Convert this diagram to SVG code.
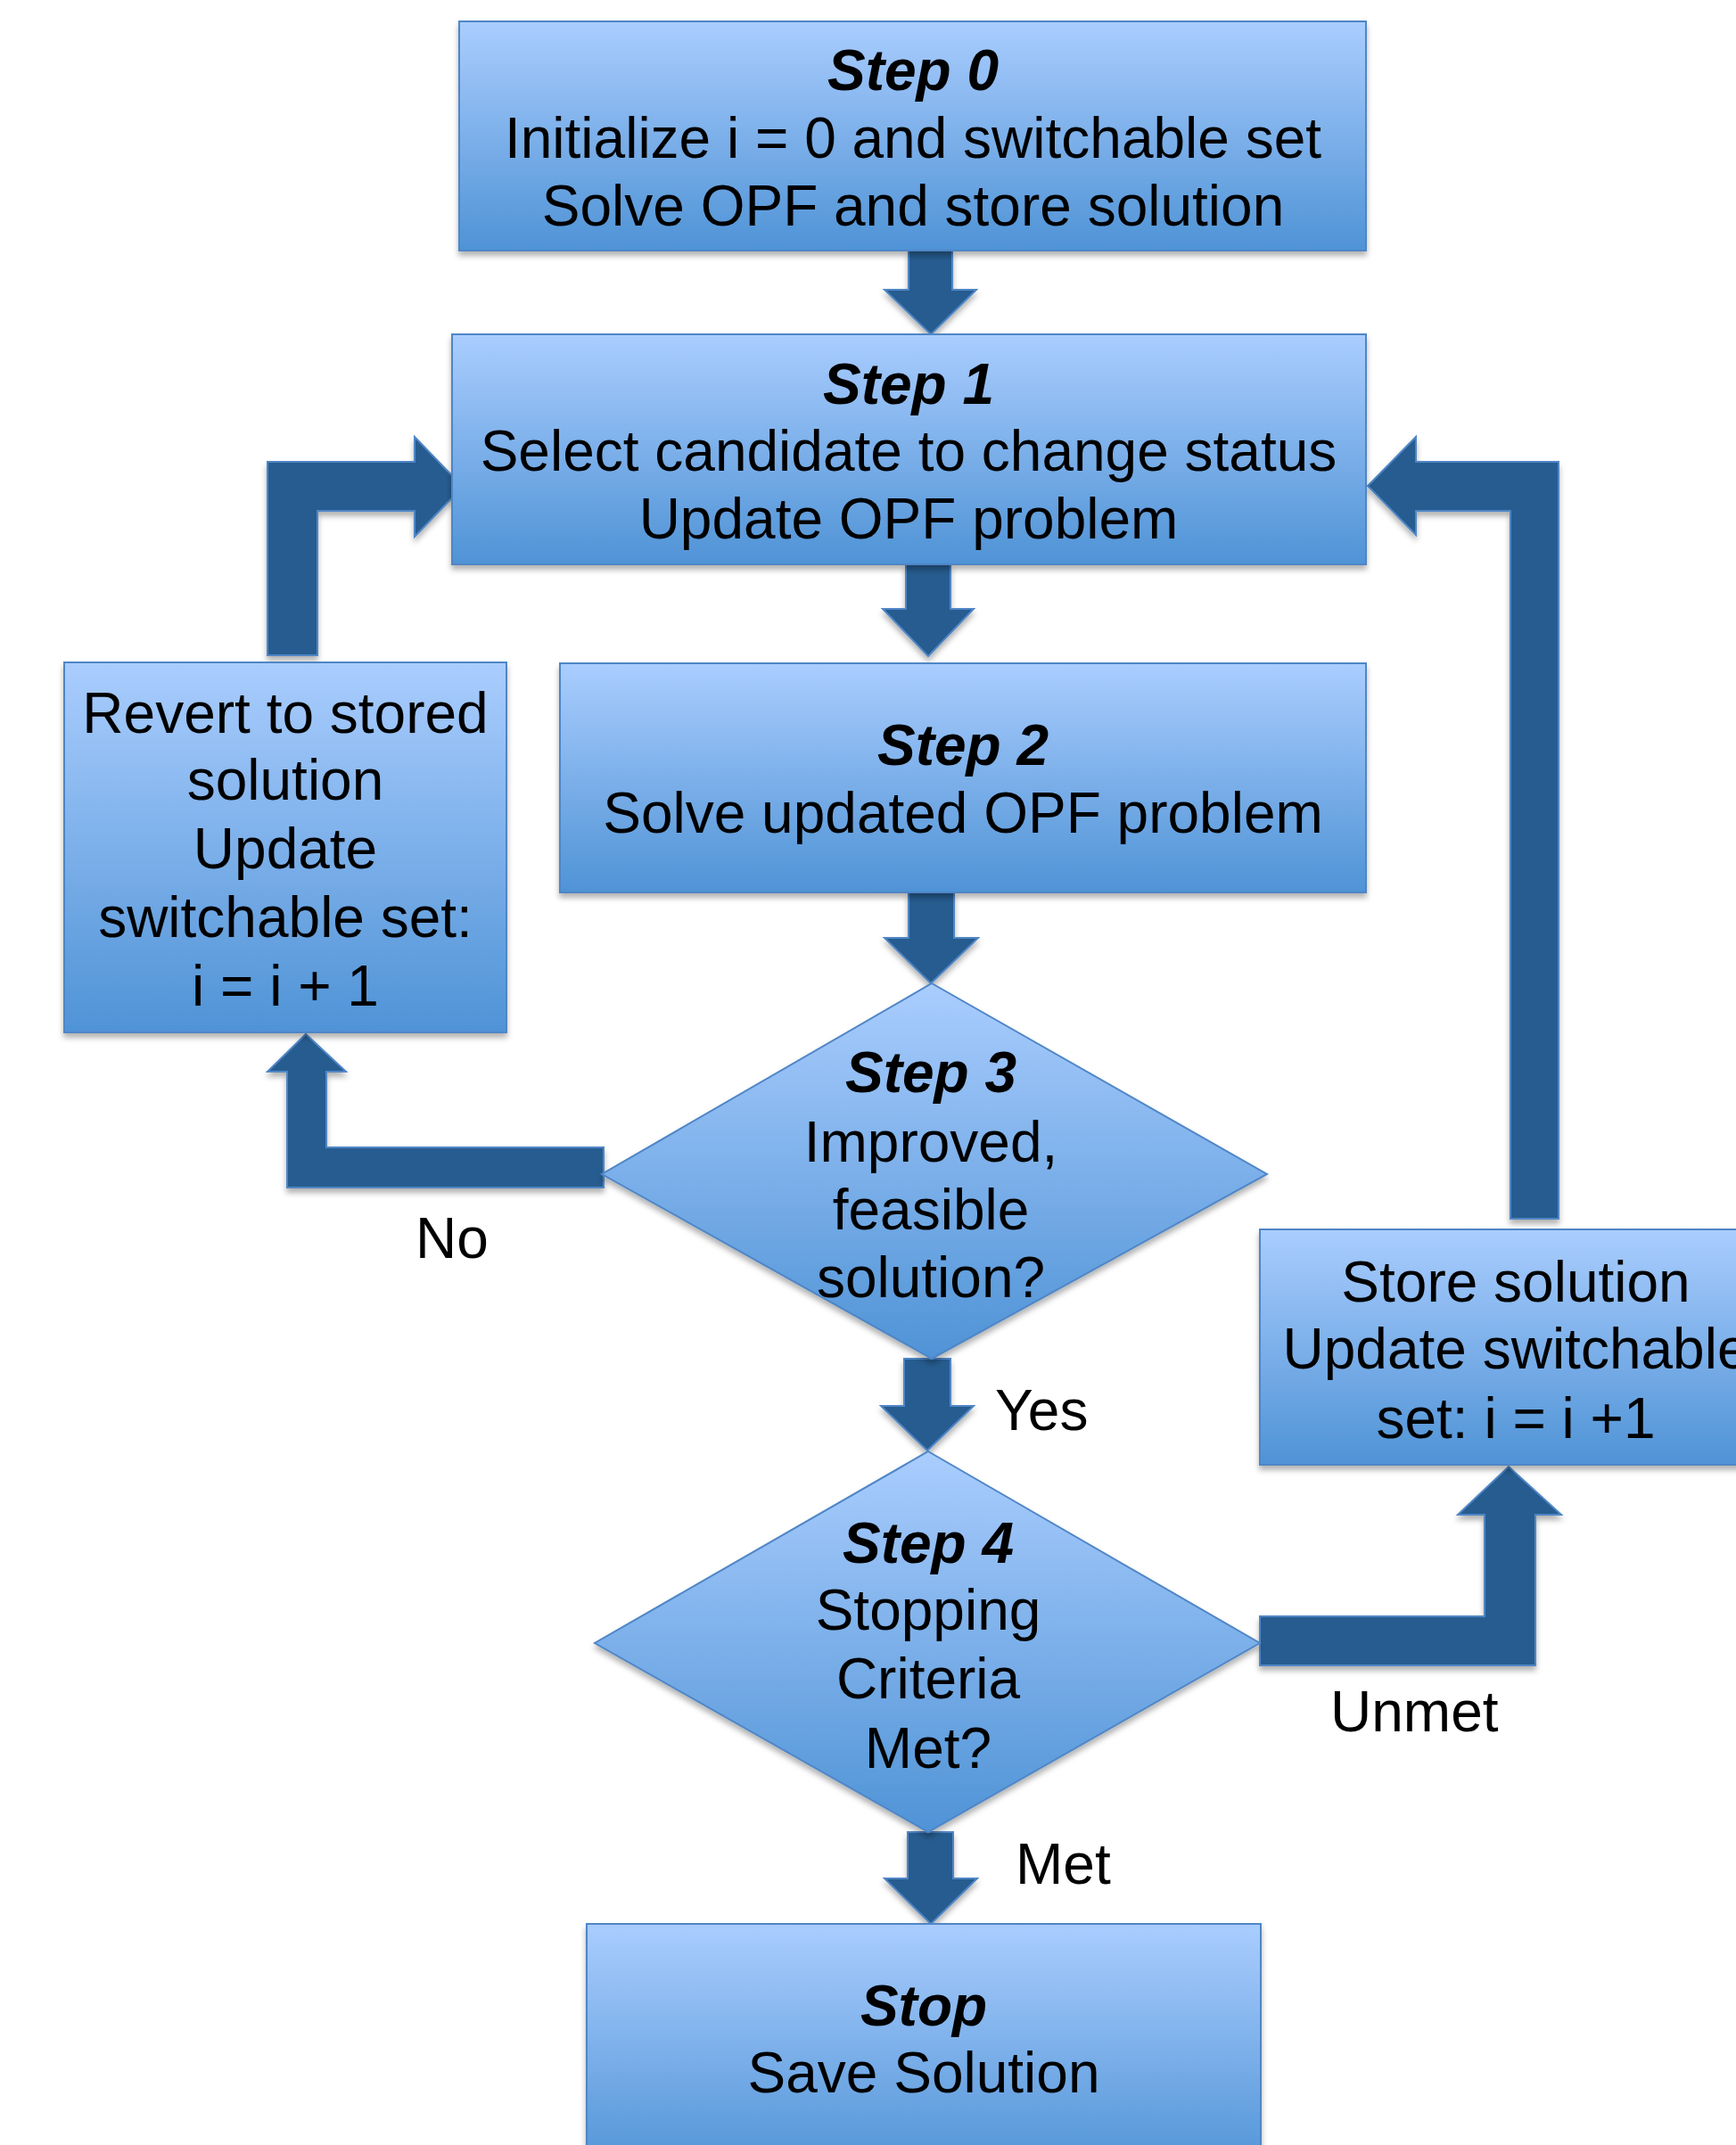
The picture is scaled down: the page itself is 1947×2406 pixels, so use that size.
<svg xmlns="http://www.w3.org/2000/svg" width="1947" height="2406" viewBox="0 0 1947 2406">
<style>
.node{fill:url(#g);stroke:#4f86c6;stroke-width:2;filter:url(#sh)}
.conn{fill:#285c8f;stroke:#4f86c6;stroke-width:2;filter:url(#sh)}
text{font-family:"Liberation Sans",Arial,sans-serif;font-size:64px;fill:#000}
.c{text-anchor:middle}
.t{font-weight:bold;font-style:italic}
</style>
<defs>
<linearGradient id="g" x1="0" y1="0" x2="0" y2="1">
<stop offset="0" stop-color="#aacdfe"/>
<stop offset="1" stop-color="#4f93d6"/>
</linearGradient>
<filter id="sh" x="-10%" y="-10%" width="120%" height="130%">
<feDropShadow dx="0" dy="5" stdDeviation="3" flood-color="#000" flood-opacity="0.3"/>
</filter>
</defs>
<rect width="1947" height="2406" fill="#fff"/>
<g id="connectors">
<polygon class="conn" points="1019,281 1068,281 1068,325 1095,325 1044,375 992,325 1019,325"/>
<polygon class="conn" points="1016,633 1066,633 1066,683 1092,683 1041,736 990,683 1016,683"/>
<polygon class="conn" points="1019,1001 1070,1001 1070,1052 1097,1052 1044,1103 992,1052 1019,1052"/>
<polygon class="conn" points="1014,1524 1066,1524 1066,1577 1092,1577 1040,1627 988,1577 1014,1577"/>
<polygon class="conn" points="1018,2055 1069,2055 1069,2107 1096,2107 1044,2158 992,2107 1018,2107"/>
<polygon class="conn" points="300,735 300,518 465,518 465,490 519,546 465,602 465,573 356,573 356,735"/>
<polygon class="conn" points="1748,1367 1748,518 1588,518 1588,490 1534,545 1588,600 1588,573 1694,573 1694,1367"/>
<polygon class="conn" points="677,1287 366,1287 366,1202 388,1202 343,1160 300,1202 322,1202 322,1332 677,1332"/>
<polygon class="conn" points="1413,1813 1665,1813 1665,1699 1635,1699 1692,1645 1751,1699 1722,1699 1722,1868 1413,1868"/>
</g>
<g id="step0">
<rect class="node" x="515" y="24" width="1017" height="257"/>
<text class="c t" x="1024" y="101">Step 0</text>
<text class="c" x="1024" y="177">Initialize i = 0 and switchable set</text>
<text class="c" x="1024" y="253">Solve OPF and store solution</text>
</g>
<g id="step1">
<rect class="node" x="507" y="375" width="1025" height="258"/>
<text class="c t" x="1019" y="453">Step 1</text>
<text class="c" x="1019" y="528">Select candidate to change status</text>
<text class="c" x="1019" y="604">Update OPF problem</text>
</g>
<g id="step2">
<rect class="node" x="628" y="744" width="904" height="257"/>
<text class="c t" x="1080" y="858">Step 2</text>
<text class="c" x="1080" y="934">Solve updated OPF problem</text>
</g>
<g id="revert">
<rect class="node" x="72" y="743" width="496" height="415"/>
<text class="c" x="320" y="822">Revert to stored</text>
<text class="c" x="320" y="897">solution</text>
<text class="c" x="320" y="974">Update</text>
<text class="c" x="320" y="1051">switchable set:</text>
<text class="c" x="320" y="1128">i = i + 1</text>
</g>
<g id="step3">
<polygon class="node" points="1045,1103 1421,1317 1045,1524 675,1317"/>
<text class="c t" x="1044" y="1225">Step 3</text>
<text class="c" x="1044" y="1303">Improved,</text>
<text class="c" x="1044" y="1379">feasible</text>
<text class="c" x="1044" y="1455">solution?</text>
</g>
<g id="store">
<rect class="node" x="1413" y="1379" width="574" height="264"/>
<text class="c" x="1700" y="1460">Store solution</text>
<text class="c" x="1700" y="1535">Update switchable</text>
<text class="c" x="1700" y="1613">set: i = i +1</text>
</g>
<g id="step4">
<polygon class="node" points="1041,1628 1413,1843 1041,2055 667,1843"/>
<text class="c t" x="1041" y="1753">Step 4</text>
<text class="c" x="1041" y="1828">Stopping</text>
<text class="c" x="1041" y="1905">Criteria</text>
<text class="c" x="1041" y="1983">Met?</text>
</g>
<g id="stop">
<rect class="node" x="658" y="2158" width="756" height="280"/>
<text class="c t" x="1036" y="2272">Stop</text>
<text class="c" x="1036" y="2347">Save Solution</text>
</g>
<g id="labels">
<text x="466" y="1411">No</text>
<text x="1116" y="1604">Yes</text>
<text x="1492" y="1942">Unmet</text>
<text x="1139" y="2113">Met</text>
</g>
</svg>
